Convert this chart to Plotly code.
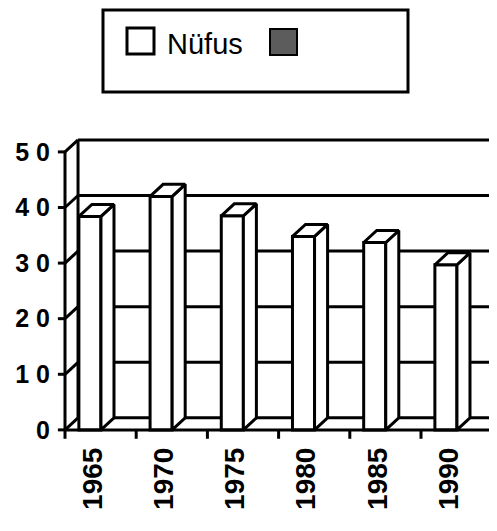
import numpy as np
import plotly.graph_objects as go

# data
years = ["1965", "1970", "1975", "1980", "1985", "1990"]
nufus = [38.4, 42.0, 38.5, 34.8, 33.7, 29.7]
y_ticks = [0, 10, 20, 30, 40, 50]
legend_names = ["Nüfus", ""]

FONT = "Liberation Sans"
LW = 3

# the page body has an 8px margin, so the figure is 8px smaller and shifted
PAGE_OFF = 8
W, H = 497 - PAGE_OFF, 531 - PAGE_OFF
L, R, T, B = 47, 0, 130, 90
PW, PH = W - L - R, H - T - B

# 3d depth of the box, in data units
DX = 0.183
DZ = 2.16

x = np.arange(len(years))
bar_w = 0.31
bar_off = -0.305

fig = go.Figure()

# front faces
fig.add_trace(go.Bar(
    x=x, y=nufus, width=bar_w, offset=bar_off,
    marker=dict(color="white", line=dict(color="black", width=LW)),
    showlegend=False, hoverinfo="skip",
))

# side and top faces built from the values
side_x, side_y, top_x, top_y = [], [], [], []
for xi, v in zip(x, nufus):
    l = xi + bar_off
    r = l + bar_w
    side_x += [r, r + DX, r + DX, r, r, None]
    side_y += [0, DZ, v + DZ, v, 0, None]
    top_x += [l, r, r + DX, l + DX, l, None]
    top_y += [v, v, v + DZ, v + DZ, v, None]

for xs, ys in [(side_x, side_y), (top_x, top_y)]:
    fig.add_trace(go.Scatter(
        x=xs, y=ys, mode="lines", fill="toself", fillcolor="white",
        line=dict(color="black", width=LW), showlegend=False, hoverinfo="skip",
    ))

shapes = []
line = dict(color="black", width=LW)
x0 = -0.5
x_end = len(years) - 0.5

# back wall gridlines + left wall
for v in y_ticks:
    shapes.append(dict(type="line", xref="x", yref="y", x0=x0 + DX, x1=x_end + 1,
                       y0=v + DZ, y1=v + DZ, line=line, layer="below"))
    shapes.append(dict(type="line", xref="x", yref="y", x0=x0, x1=x0 + DX,
                       y0=v, y1=v + DZ, line=line, layer="below"))
    # y tick marks
    shapes.append(dict(type="line", xref="x", yref="y", x0=x0 - 0.1, x1=x0,
                       y0=v, y1=v, line=line))
shapes.append(dict(type="line", xref="x", yref="y", x0=x0 + DX, x1=x0 + DX,
                   y0=DZ, y1=y_ticks[-1] + DZ, line=line, layer="below"))
# front axis lines
shapes.append(dict(type="line", xref="x", yref="y", x0=x0, x1=x0,
                   y0=0, y1=y_ticks[-1], line=line))
shapes.append(dict(type="line", xref="x", yref="y", x0=x0, x1=x_end,
                   y0=0, y1=0, line=line))
shapes.append(dict(type="line", xref="x", yref="y", x0=x_end, x1=x_end + DX,
                   y0=0, y1=DZ, line=line))
# x tick marks at category boundaries
for b in np.arange(len(years) + 1) - 0.5:
    shapes.append(dict(type="line", xref="x", yref="y", x0=b, x1=b,
                       y0=0, y1=-1.6, line=line))


# legend drawn as a box in paper coords (args are page pixels)
def px(p):
    return (p - PAGE_OFF - L) / PW


def py(p):
    return (H - B - (p - PAGE_OFF)) / PH


shapes.append(dict(type="rect", xref="paper", yref="paper",
                   x0=px(103), x1=px(408), y0=py(92), y1=py(10),
                   line=line, fillcolor="white"))
shapes.append(dict(type="rect", xref="paper", yref="paper",
                   x0=px(127), x1=px(154), y0=py(54), y1=py(28),
                   line=line, fillcolor="white"))
shapes.append(dict(type="rect", xref="paper", yref="paper",
                   x0=px(270), x1=px(297), y0=py(55), y1=py(29),
                   line=dict(color="black", width=2), fillcolor="#5c5c5c"))

fig.update_layout(
    width=W, height=H,
    margin=dict(l=L, r=R, t=T, b=B),
    plot_bgcolor="white", paper_bgcolor="white",
    showlegend=False,
    shapes=shapes,
    annotations=[dict(xref="paper", yref="paper", x=px(165), y=py(44),
                      xanchor="left", yanchor="middle", showarrow=False,
                      text=legend_names[0],
                      font=dict(family=FONT, size=29, color="black"))],
    font=dict(family=FONT, color="black"),
)

fig.update_xaxes(
    range=[x0 - 10 / 71.2, x0 + (PW - 10) / 71.2],
    tickmode="array", tickvals=x - 0.11, ticktext=years,
    tickangle=-90, ticks="", ticklabelstandoff=0,
    tickfont=dict(family=FONT, size=28, weight="bold"),
    showgrid=False, zeroline=False, showline=False,
)
fig.update_yaxes(
    range=[-2.0, 52.5],
    tickmode="array", tickvals=y_ticks,
    ticktext=[" ".join(str(t)) for t in y_ticks],
    ticks="", ticklabelstandoff=4,
    tickfont=dict(family=FONT, size=25, weight="bold"),
    showgrid=False, zeroline=False, showline=False,
)

fig.write_html("out.html")
